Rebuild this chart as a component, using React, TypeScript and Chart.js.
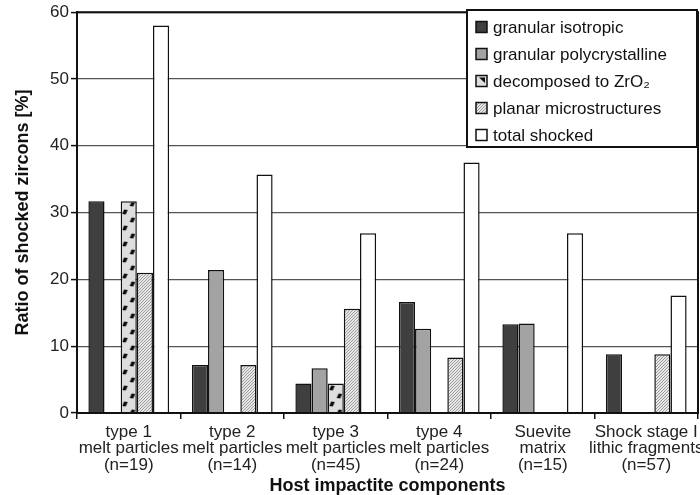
import React, { useEffect, useRef } from "react";
import { Chart, registerables } from "chart.js";

Chart.register(...registerables);

const categories: string[][] = [
  ["type 1", "melt particles", "(n=19)"],
  ["type 2", "melt particles", "(n=14)"],
  ["type 3", "melt particles", "(n=45)"],
  ["type 4", "melt particles", "(n=24)"],
  ["Suevite", "matrix", "(n=15)"],
  ["Shock stage I", "lithic fragments", "(n=57)"],
];

const seriesLabels = [
  "granular isotropic",
  "granular polycrystalline",
  "decomposed to ZrO₂",
  "planar microstructures",
  "total shocked",
];

const granularIsotropic = [31.7, 7.2, 4.4, 16.6, 13.3, 8.8];
const granularPolycrystalline = [0, 21.4, 6.7, 12.6, 13.4, 0];
const decomposedZrO2 = [31.7, 0, 4.4, 0, 0, 0];
const planarMicrostructures = [21.0, 7.2, 15.6, 8.3, 0, 8.8];
const totalShocked = [58.0, 35.7, 26.9, 37.5, 26.9, 17.6];

const yTicks = [0, 10, 20, 30, 40, 50, 60];

const FONT = "'Liberation Sans', Arial, sans-serif";
const CAT_PCT = 0.78;

function decomposedTile(): HTMLCanvasElement {
  const c = document.createElement("canvas");
  c.width = 16;
  c.height = 16;
  const g = c.getContext("2d");
  if (!g) return c;
  g.fillStyle = "#dedede";
  g.fillRect(0, 0, 16, 16);
  g.fillStyle = "#0a0a0a";
  const blob = (x: number, y: number) => {
    g.beginPath();
    g.moveTo(x + 2, y);
    g.lineTo(x + 5.5, y + 0.5);
    g.lineTo(x + 3.5, y + 5);
    g.lineTo(x, y + 4.5);
    g.closePath();
    g.fill();
  };
  blob(1.5, 1.5);
  blob(9, 9.5);
  return c;
}

function makePlanarPattern(): CanvasPattern | string {
  const c = document.createElement("canvas");
  c.width = 3;
  c.height = 3;
  const g = c.getContext("2d");
  if (!g) return "#bbb";
  g.fillStyle = "#e8e8e8";
  g.fillRect(0, 0, 3, 3);
  g.fillStyle = "#9a9a9a";
  g.fillRect(2, 0, 1, 1);
  g.fillRect(1, 1, 1, 1);
  g.fillRect(0, 2, 1, 1);
  const p = g.createPattern(c, "repeat");
  return p || "#bbb";
}

export default function App() {
  const ref = useRef<HTMLCanvasElement | null>(null);

  useEffect(() => {
    document.body.style.margin = "0";
    const canvas = ref.current;
    if (!canvas) return;
    const c2d = canvas.getContext("2d");
    const tile = decomposedTile();

    const patternAt = (x: number, y: number): CanvasPattern | string => {
      if (!c2d) return "#ccc";
      const p = c2d.createPattern(tile, "repeat");
      if (!p) return "#ccc";
      try {
        p.setTransform(new DOMMatrix().translate(x, y));
      } catch (e) {
        /* ignore */
      }
      return p;
    };

    const planar = makePlanarPattern();
    const legendFills: (string | CanvasPattern)[] = ["#3f3f3f", "#a3a3a3", "decomp", planar, "#ffffff"];
    const values = [granularIsotropic, granularPolycrystalline, decomposedZrO2, planarMicrostructures, totalShocked];

    const decompFill = (ctx: any) => {
      const xs = ctx.chart.scales.x;
      if (!xs || ctx.dataIndex === undefined) return "#ccc";
      const catW = xs.width / categories.length;
      const barW = (catW * CAT_PCT) / 5;
      const center = xs.getPixelForValue(ctx.dataIndex);
      const left = center - (catW * CAT_PCT) / 2 + 2 * barW;
      return patternAt(left, 0);
    };

    const fills: any[] = ["#3f3f3f", "#a3a3a3", decompFill, planar, "#ffffff"];

    const framePlugin = {
      id: "frame",
      afterDatasetsDraw(chart: any) {
        const { ctx, chartArea } = chart;
        ctx.save();
        ctx.strokeStyle = "#111";
        ctx.lineWidth = 2;
        ctx.strokeRect(chartArea.left, chartArea.top, chartArea.right - chartArea.left, chartArea.bottom - chartArea.top);
        ctx.restore();
      },
    };

    const legendPlugin = {
      id: "boxLegend",
      afterDraw(chart: any) {
        const { ctx } = chart;
        const x0 = 467, y0 = 10, w = 230, h = 137;
        ctx.save();
        ctx.fillStyle = "#fff";
        ctx.fillRect(x0, y0, w, h);
        ctx.strokeStyle = "#111";
        ctx.lineWidth = 2;
        ctx.strokeRect(x0, y0, w, h);
        ctx.font = `17px ${FONT}`;
        ctx.textBaseline = "middle";
        chart.data.datasets.forEach((ds: any, i: number) => {
          const cy = y0 + 17 + i * 27;
          const sx = x0 + 9, sz = 11;
          const f = legendFills[i];
          if (f === "decomp") {
            ctx.fillStyle = "#dedede";
            ctx.fillRect(sx, cy - sz / 2, sz, sz);
            ctx.fillStyle = "#0a0a0a";
            ctx.beginPath();
            ctx.moveTo(sx + 3, cy - sz / 2 + 2);
            ctx.lineTo(sx + 9, cy - sz / 2 + 2);
            ctx.lineTo(sx + 9, cy + 2);
            ctx.closePath();
            ctx.fill();
          } else {
            ctx.fillStyle = f;
            ctx.fillRect(sx, cy - sz / 2, sz, sz);
          }
          ctx.lineWidth = 1.5;
          ctx.strokeStyle = "#111";
          ctx.strokeRect(sx, cy - sz / 2, sz, sz);
          ctx.fillStyle = "#111";
          ctx.fillText(ds.label, x0 + 26, cy + 1);
        });
        ctx.restore();
      },
    };

    const chart = new Chart(canvas, {
      type: "bar",
      data: {
        labels: categories as any,
        datasets: seriesLabels.map((label, i) => ({
          label,
          data: values[i],
          backgroundColor: fills[i],
          borderColor: "#111",
          borderWidth: 1.5,
          categoryPercentage: CAT_PCT,
          barPercentage: 1,
        })),
      },
      options: {
        responsive: false,
        animation: false,
        layout: { padding: { top: 11, right: 2, left: 0, bottom: 0 } },
        plugins: {
          legend: { display: false },
          tooltip: { enabled: false },
        },
        scales: {
          x: {
            grid: {
              offset: true,
              drawOnChartArea: false,
              drawTicks: true,
              tickLength: 6,
              color: "#111",
              lineWidth: 1.5,
            },
            border: { display: true, color: "#111", width: 2 },
            ticks: {
              color: "#222",
              font: { family: FONT, size: 17, lineHeight: 0.97 },
              maxRotation: 0,
              minRotation: 0,
              autoSkip: false,
              padding: 5,
            },
            title: {
              display: true,
              text: "Host impactite components",
              color: "#111",
              font: { family: FONT, size: 18, weight: "bold", lineHeight: 1.0 },
              padding: { top: 0, bottom: 0 },
            },
            afterFit(scale: any) {
              scale.height = 82;
              scale.paddingLeft = 0;
              scale.paddingRight = 0;
            },
          } as any,
          y: {
            min: 0,
            max: 60,
            afterBuildTicks(scale: any) {
              scale.ticks = yTicks.map((v) => ({ value: v }));
            },
            grid: {
              color: "#555",
              lineWidth: 1.2,
              drawTicks: true,
              tickLength: 6,
              tickColor: "#111",
              tickWidth: 1.5,
            } as any,
            border: { display: true, color: "#111", width: 2 },
            ticks: {
              color: "#222",
              font: { family: FONT, size: 17 },
              padding: 2,
            },
            title: {
              display: true,
              text: "Ratio of shocked zircons [%]",
              color: "#111",
              font: { family: FONT, size: 18, weight: "bold" },
              padding: { top: 12, bottom: 4 },
            },
            afterFit(scale: any) {
              scale.width = 77;
            },
          } as any,
        },
      },
      plugins: [framePlugin, legendPlugin],
    });

    return () => chart.destroy();
  }, []);

  return (
    <div style={{ width: 700, height: 495, background: "#fff" }}>
      <canvas ref={ref} width={700} height={495} />
    </div>
  );
}
